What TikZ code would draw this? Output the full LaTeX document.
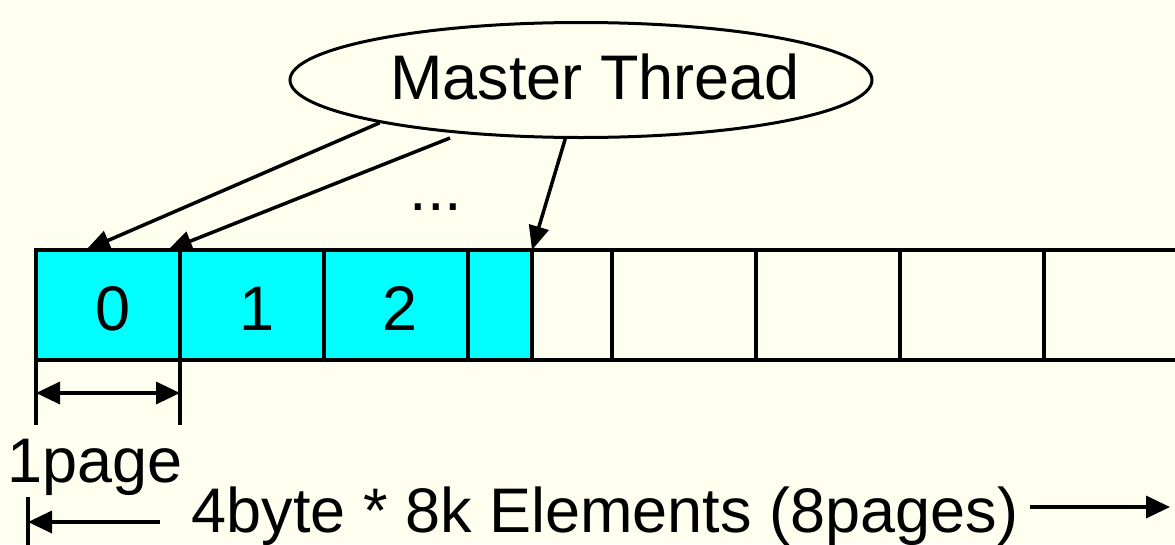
\documentclass[tikz,border=0pt]{standalone}
\usepackage{fontspec}
\setmainfont{Liberation Sans}
\usetikzlibrary{shapes.geometric,arrows.meta}
\definecolor{bgivory}{RGB}{255,255,240}
\definecolor{cellcyan}{RGB}{0,255,255}
\begin{document}
\begin{tikzpicture}[x=1pt,y=-1pt,
  cellbox/.style={draw=black,line width=3.5pt,minimum height=110pt,inner sep=0pt,outer sep=0pt,anchor=north west},
  usedcell/.style={cellbox,fill=cellcyan},
  bigtxt/.style={font=\fontsize{63}{70}\selectfont,inner sep=0pt,anchor=base},
  ptr/.style={line width=3.5pt,-{Triangle[length=24pt,width=20pt]}},
  dimline/.style={line width=3.5pt},
  dimarrow/.style={line width=3.5pt,{Triangle[length=24pt,width=22pt]}-{Triangle[length=24pt,width=22pt]}}]
\fill[bgivory] (0,0) rectangle (1175,544);
\useasboundingbox (0,0) rectangle (1175,544);
\clip (0,0) rectangle (1175,544);
% cells
\node[usedcell,minimum width=144pt] (c0) at (36,250) {};
\node[usedcell,minimum width=144pt] (c1) at (180,250) {};
\node[usedcell,minimum width=144pt] (c2) at (324,250) {};
\node[usedcell,minimum width=64pt] (c3) at (468,250) {};
\node[cellbox,minimum width=80pt] (c4) at (532,250) {};
\node[cellbox,minimum width=144pt] (c5) at (612,250) {};
\node[cellbox,minimum width=144pt] (c6) at (756,250) {};
\node[cellbox,minimum width=144pt] (c7) at (900,250) {};
\node[cellbox,minimum width=144pt] (c8) at (1044,250) {};
\node[bigtxt] (l0) at (113,330) {0};
\node[bigtxt] (l1) at (257,330) {1};
\node[bigtxt] (l2) at (400,330) {2};
% master thread
\node[draw=black,line width=3pt,ellipse,minimum width=582pt,minimum height=115pt,inner sep=0pt] (mtell) at (581,80) {};
\node[bigtxt] (mt) at (595,99) {Master Thread};
\node[bigtxt] (dots) at (436,210) {...};
% pointer arrows
\coordinate (s2) at (450,138);
\coordinate (t0) at (86,250);
\coordinate (t1) at (168,250);
\draw[ptr] (mtell.192) -- (t0);
\draw[ptr] (s2) -- (t1);
\draw[ptr] (mtell.255) -- (c3.north east);
% 1 page dimension
\coordinate (d0) at (36,425);
\coordinate (d1) at (180,425);
\draw[dimline] (c0.south west) -- (d0);
\draw[dimline] (c0.south east) -- (d1);
\coordinate (a0) at (36,393);
\coordinate (a1) at (180,393);
\draw[dimarrow] (a0) -- (a1);
\node[bigtxt] (pg) at (95,482) {1page};
% total dimension
\coordinate (b0) at (28,497);
\coordinate (b1) at (28,550);
\draw[dimline] (b0) -- (b1);
\coordinate (la) at (160,522);
\coordinate (lb) at (28,522);
\draw[line width=3.5pt,-{Triangle[length=24pt,width=22pt]}] (la) -- (lb);
\node[bigtxt] (tot) at (605,532) {4byte * 8k Elements (8pages)};
\coordinate (ra) at (1030,507);
\coordinate (rb) at (1170,507);
\draw[line width=3.5pt,-{Triangle[length=24pt,width=22pt]}] (ra) -- (rb);
\end{tikzpicture}
\end{document}
